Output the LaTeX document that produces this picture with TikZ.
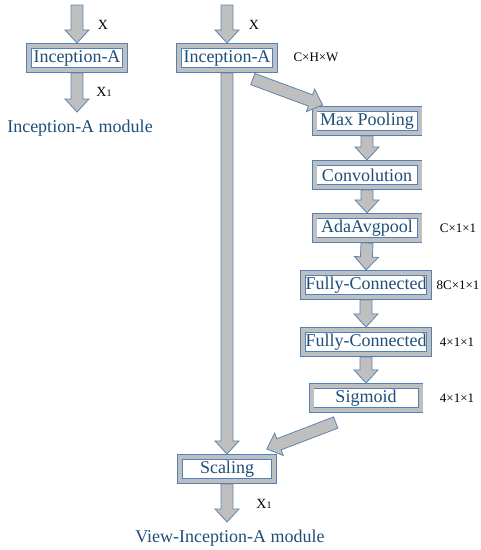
\documentclass[tikz,border=0pt]{standalone}
\usepackage{fontspec}
\setmainfont{Liberation Serif}
\usetikzlibrary{calc}

\definecolor{framebl}{HTML}{4F81BD}
\definecolor{bandgray}{HTML}{BFBFBF}
\definecolor{textbl}{HTML}{1F4E79}
\definecolor{arrowedge}{HTML}{5E84AE}

% block arrow from #1 (tail) to #2 (tip)
\newcommand{\blockarrow}[2]{%
  \draw[block arrow] let \p1=(#1), \p2=(#2),
      \n1={atan2(\y2-\y1,\x2-\x1)}, \n2={veclen(\x2-\x1,\y2-\y1)} in
    [shift={(\p1)}, rotate=\n1]
    (0,-6) -- ({\n2-13},-6) -- ({\n2-13},-12) -- (\n2,0)
    -- ({\n2-13},12) -- ({\n2-13},6) -- (0,6) -- cycle;}

\begin{document}
\begin{tikzpicture}[x=1pt, y=1pt]
    % --- Style Definitions ---
    \tikzset{
        % Framed layer box (grey band between two blue lines)
        layer box/.style={
            draw=framebl,
            line width=0.8pt,
            double=bandgray,
            double distance=4pt,
            fill=white,
            minimum height=24.5pt,
            inner sep=0pt,
            outer sep=2.8pt,
            font=\fontsize{18}{18}\selectfont,
            text=textbl
        },
        % Thick grey arrows
        block arrow/.style={
            draw=arrowedge,
            fill=bandgray,
            line width=0.8pt,
            line join=miter
        },
        % Text styling
        var text/.style={
            font=\fontsize{14}{14}\selectfont,
            text=black
        },
        size text/.style={
            font=\fontsize{13}{13}\selectfont,
            text=black
        },
        caption text/.style={
            font=\fontsize{18}{18}\selectfont,
            text=textbl
        }
    }

    \useasboundingbox (0,0) rectangle (481,-550);

    % --- 1. Plain module (left) ---
    \node[layer box, minimum width=96pt] (inA1) at (77,-58) {Inception-A};
    \coordinate (inL) at (77,-5);
    \coordinate (outL) at (77,-112);
    \node[var text] (xL) at (103,-25) {X};
    \node[var text] (x1L) at (104,-92) {X\raisebox{-0.8pt}{\fontsize{10}{10}\selectfont 1}};
    \node[caption text] (capL) at (80,-128) {Inception-A module};

    % --- 2. View module (right) ---
    \node[layer box, minimum width=96pt] (inA2) at (227,-58) {Inception-A};
    \node[layer box, minimum width=105pt] (pool) at (367,-121) {Max Pooling};
    \node[layer box, minimum width=105pt] (conv) at (367,-175) {Convolution};
    \node[layer box, minimum width=105pt] (ada) at (367,-228) {AdaAvgpool};
    \node[layer box, minimum width=126pt] (fcA) at (366,-285) {Fully-Connected};
    \node[layer box, minimum width=126pt] (fcB) at (366,-342) {Fully-Connected};
    \node[layer box, minimum width=109pt] (sig) at (366,-398) {Sigmoid};
    \node[layer box, minimum width=94pt] (scal) at (227,-469) {Scaling};

    \coordinate (inR) at (227,-5);
    \coordinate (outR) at (227,-522);
    \coordinate (poolin) at ($(inA2.south east)+(-25,-6)$);
    \coordinate (pooltip) at ($(pool.north west)+(11,1)$);
    \coordinate (sigout) at ($(sig.south west)+(27,-9.5)$);
    \coordinate (scaltip) at ($(scal.north east)+(-10,5)$);

    % sizes
    \node[var text] (xR) at (254,-25) {X};
    \node[size text] (chw) at (316,-57) {C×H×W};
    \node[size text] (sizeA) at (458,-228) {C×1×1};
    \node[size text] (sizeB) at (458,-285) {8C×1×1};
    \node[size text] (sizeC) at (457,-342) {4×1×1};
    \node[size text] (sizeD) at (457,-398) {4×1×1};
    \node[var text] (x1R) at (264,-504) {X\raisebox{-0.8pt}{\fontsize{10}{10}\selectfont 1}};
    \node[caption text] (capR) at (230,-538) {View-Inception-A module};

    % --- 3. Arrows ---
    \blockarrow{inL}{inA1.north}
    \blockarrow{inA1.south}{outL}
    \blockarrow{inR}{inA2.north}
    \blockarrow{inA2.south}{scal.north}
    \blockarrow{poolin}{pooltip}
    \foreach \a/\b in {pool/conv, conv/ada, ada/fcA, fcA/fcB, fcB/sig}
        {\blockarrow{\a.south}{\b.north}}
    \blockarrow{sigout}{scaltip}
    \blockarrow{scal.south}{outR}
\end{tikzpicture}
\end{document}
